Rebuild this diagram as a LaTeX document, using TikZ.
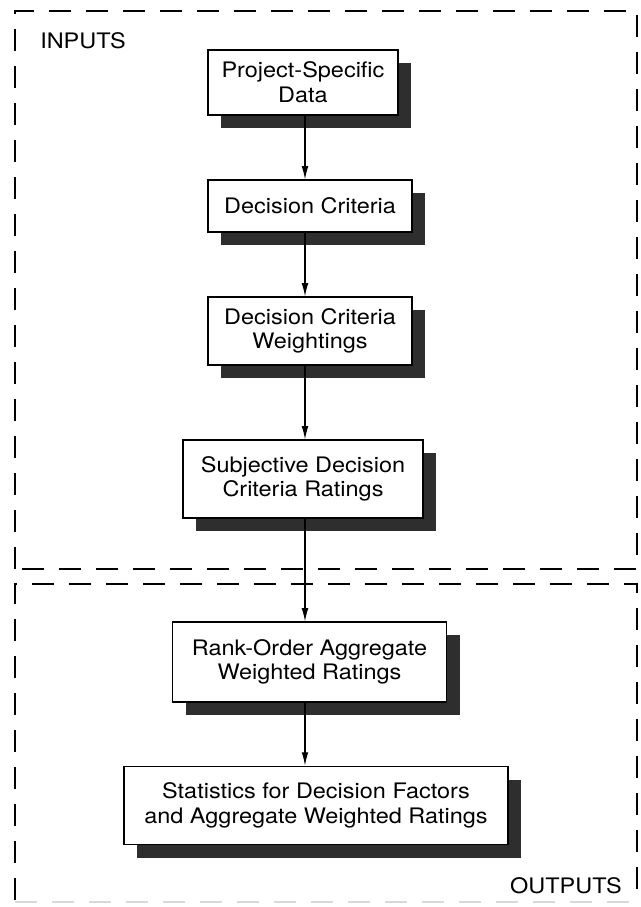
\documentclass[tikz,border=0pt]{standalone}
\usepackage{fontspec}
\setmainfont{TeX Gyre Heros}[FakeStretch=1.1]
\usetikzlibrary{arrows.meta, shadows}

\tikzset{
    stepbox/.style={draw, fill=white, line width=0.8pt, align=center,
        font=\fontsize{16}{18.5}\selectfont, inner sep=0pt,
        drop shadow={shadow xshift=10pt, shadow yshift=-10pt, fill=black!82, opacity=1}},
    flow/.style={-{Latex[length=10pt, width=5pt]}, line width=0.8pt},
    frame/.style={line width=0.8pt, dash pattern=on 16.5pt off 11.25pt},
    tag/.style={font=\fontsize{16}{18.5}\selectfont, inner sep=0pt}
}

\begin{document}
\begin{tikzpicture}[x=0.75pt, y=-0.75pt]
    \useasboundingbox (0,0) rectangle (640,907);

    % the two dashed frames
    \draw [frame] (15,569) -- (15,11) -- (637,11) -- (637,569) -- cycle;
    \draw [frame] (15,900) -- (15,584) -- (637,584) -- (637,900);
    \draw [frame, black!15] (15,902) -- (637,902);

    % the frame labels
    \node [tag, anchor=base west] (inputs) at (40,48) {INPUTS};
    \node [tag, anchor=base east] (outputs) at (622,893) {OUTPUTS};

    % the arrows run down this line
    \coordinate (axis) at (305,0);

    % the input boxes
    \node [stepbox, minimum width=142.5pt, minimum height=48.75pt] (data) at (303,82.5) {Project-Specific\\Data};
    \node [stepbox, minimum width=153pt, minimum height=39pt] (crit) at (310,206) {Decision Criteria};
    \node [stepbox, minimum width=153pt, minimum height=51pt] (weights) at (310,331) {Decision Criteria\\Weightings};
    \node [stepbox, minimum width=180pt, minimum height=58.5pt] (ratings) at (303,479) {Subjective Decision\\Criteria Ratings};

    % the output boxes
    \node [stepbox, minimum width=206pt, minimum height=60pt] (rank) at (309.5,662) {Rank-Order Aggregate\\Weighted Ratings};
    \node [stepbox, minimum width=288pt, minimum height=59pt] (stats) at (316,805.5) {Statistics for Decision Factors\\and Aggregate Weighted Ratings};

    % the arrows between the boxes
    \draw [flow] (data.south -| axis) -- (crit.north -| axis);
    \draw [flow] (crit.south -| axis) -- (weights.north -| axis);
    \draw [flow] (weights.south -| axis) -- (ratings.north -| axis);
    \draw [flow] (ratings.south -| axis) -- (rank.north -| axis);
    \draw [flow] (rank.south -| axis) -- (stats.north -| axis);

\end{tikzpicture}
\end{document}
